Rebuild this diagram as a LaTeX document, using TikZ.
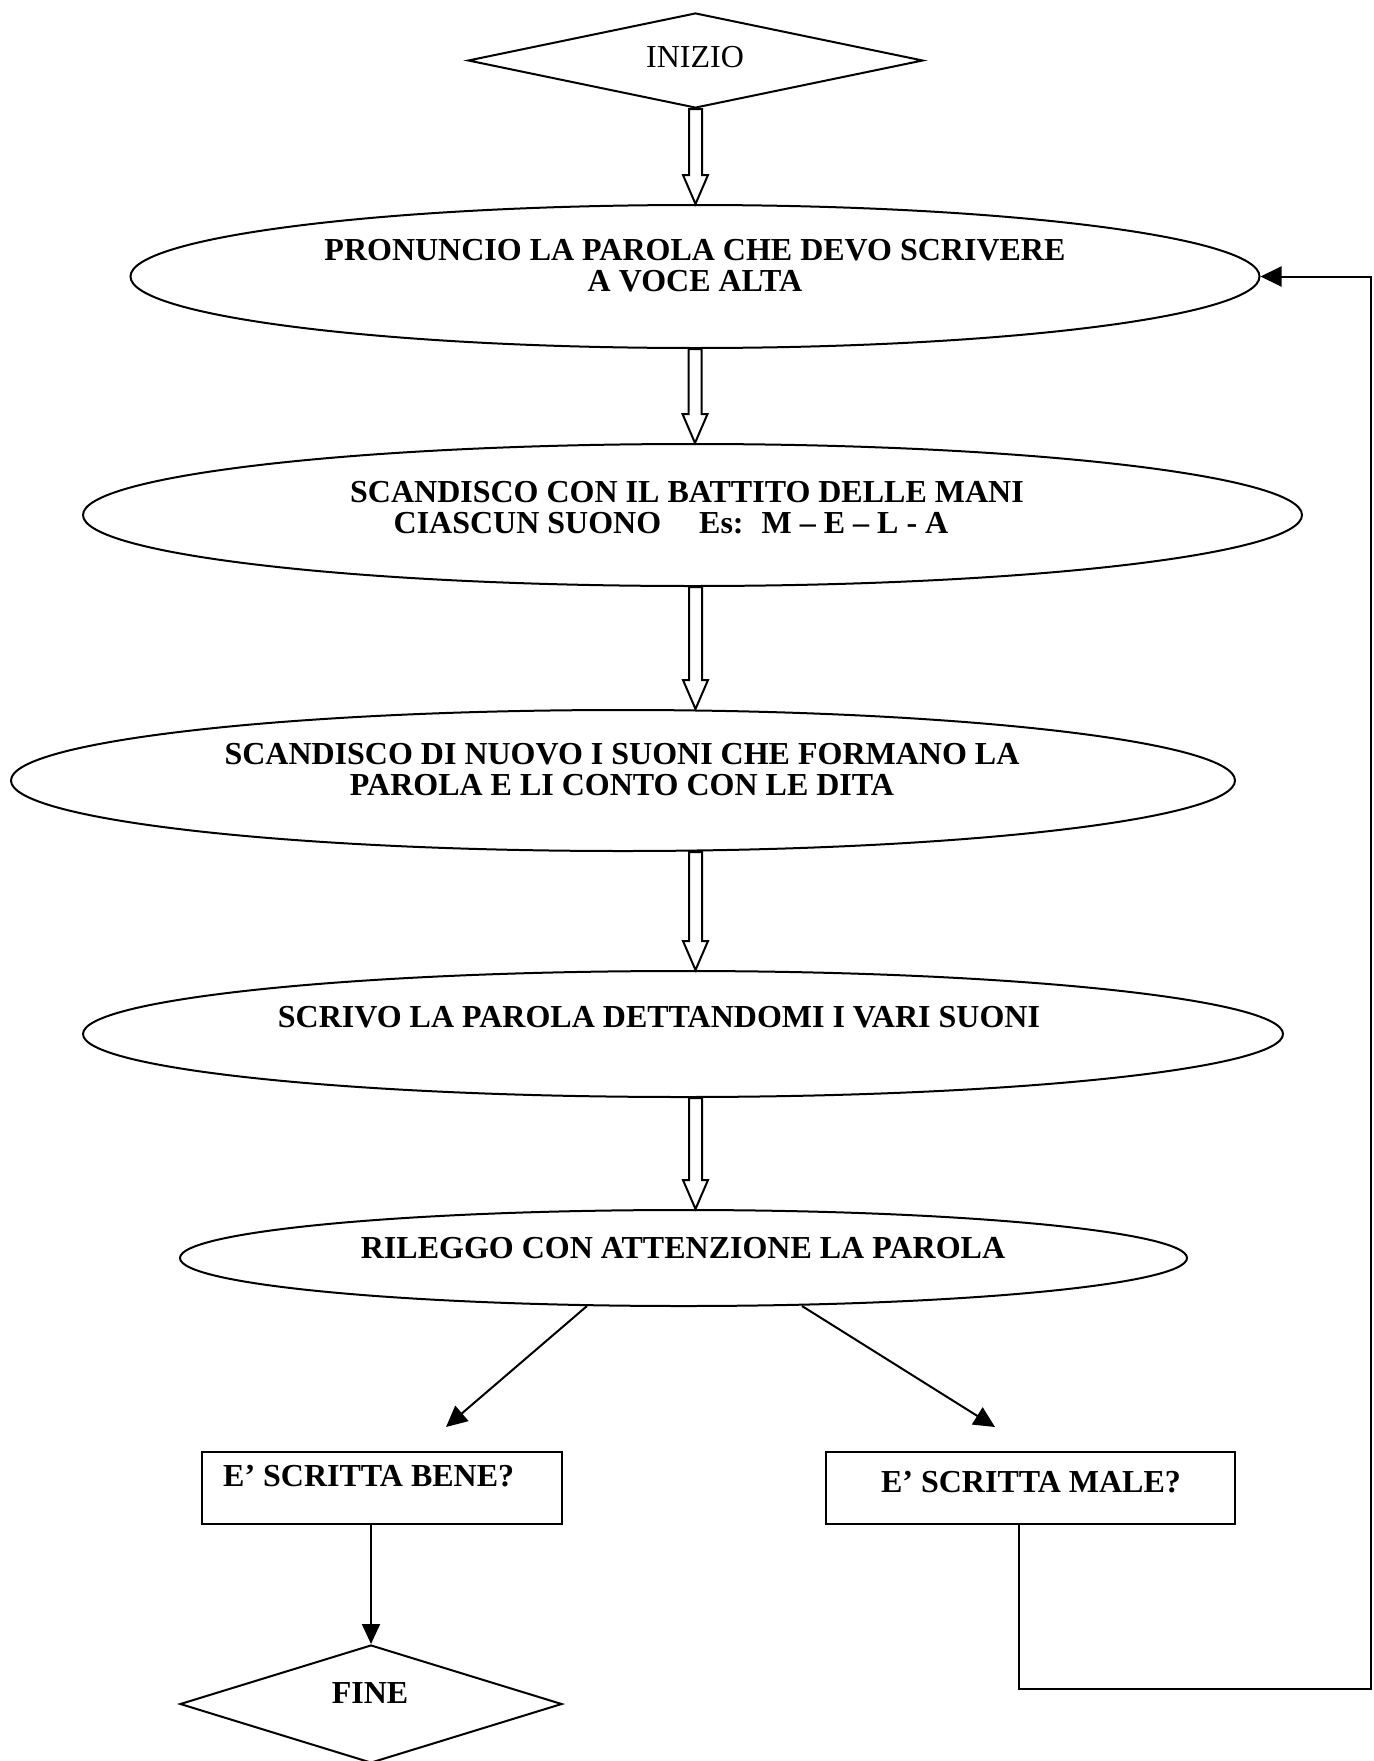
\documentclass[tikz,border=0pt]{standalone}
\usepackage{fontspec}
\setmainfont{Liberation Serif}
\usetikzlibrary{shapes.geometric,arrows.meta,calc}
\newcommand{\harrow}[2]{%
  \draw[hol] let \p1=(#1), \p2=(#2) in
    (\x1-6.5pt,\y1) -- (\x1-6.5pt,\y2+29pt) -- (\x1-12.5pt,\y2+29pt) -- (\x1,\y2)
    -- (\x1+12.5pt,\y2+29pt) -- (\x1+6.5pt,\y2+29pt) -- (\x1+6.5pt,\y1) -- cycle;}
\begin{document}
\begin{tikzpicture}[x=1pt,y=-1pt,
  ell/.style={ellipse, draw, line width=2pt, inner sep=0pt},
  dia/.style={diamond, draw, line width=2pt, inner sep=0pt},
  box/.style={rectangle, draw, line width=2pt, inner sep=0pt},
  txt/.style={font=\fontsize{32}{31}\selectfont\bfseries, align=center, inner sep=0pt},
  arr/.style={line width=2pt, line join=miter, -{Triangle[length=21pt,width=20pt]}},
  hol/.style={line width=2pt, line join=miter}]
\useasboundingbox (0,0) rectangle (1373,1761);
% start
\node[dia, minimum width=455pt, minimum height=95pt] (start) at (695.5,60.5) {};
\node[font=\fontsize{32}{31}\selectfont, inner sep=0pt] (tstart) at (695,57) {INIZIO};
% ellipses
\node[ell, minimum width=1129pt, minimum height=143pt] (e1) at (695,276.5) {};
\node[txt] (t1) at (695,266) {PRONUNCIO LA PAROLA CHE DEVO SCRIVERE\\A VOCE ALTA};
\node[ell, minimum width=1219pt, minimum height=142pt] (e2) at (692.5,515) {};
\node[txt] (t2) at (687,507.5) {SCANDISCO CON IL BATTITO DELLE MANI\\CIASCUN SUONO\hspace{38pt}Es:\hspace{18pt}M – E – L - A\hspace*{32pt}};
\node[ell, minimum width=1224pt, minimum height=141pt] (e3) at (623,780.5) {};
\node[txt] (t3) at (622,770) {SCANDISCO DI NUOVO I SUONI CHE FORMANO LA\\PAROLA E LI CONTO CON LE DITA};
\node[ell, minimum width=1200pt, minimum height=126pt] (e4) at (683,1034) {};
\node[txt] (t4) at (659,1017) {SCRIVO LA PAROLA DETTANDOMI I VARI SUONI};
\node[ell, minimum width=1007pt, minimum height=96pt] (e5) at (683.5,1258) {};
\node[txt] (t5) at (683,1248) {RILEGGO CON ATTENZIONE LA PAROLA};
% boxes
\node[box, minimum width=360pt, minimum height=72pt] (bb) at (382,1488) {};
\node[txt, anchor=west] (tb) at (223,1476) {E’ SCRITTA BENE?};
\node[box, minimum width=409pt, minimum height=72pt] (mb) at (1030.5,1488) {};
\node[txt] (tm) at (1031,1482) {E’ SCRITTA MALE?};
% end
\node[dia, minimum width=382pt, minimum height=118pt] (fine) at (371,1704) {};
\node[txt] (tf) at (370,1693) {FINE};
% hollow arrows
\harrow{start.south}{e1.north}
\harrow{e1.south}{e2.north}
\harrow{e2.south -| start.south}{e3.north}
\harrow{e3.south -| start.south}{e4.north}
\harrow{e4.south -| start.south}{e5.north}
% branch arrows
\coordinate (lt) at ($(bb.north)+(64,-24)$);
\coordinate (rt) at ($(mb.north)+(-35.5,-24)$);
\draw[arr] ($(e5.south)+(-96.5,-1)$) -- (lt);
\draw[arr] ($(e5.south)+(118.5,-1)$) -- (rt);
\draw[arr, -{Triangle[length=20pt,width=18pt]}] (bb.south -| fine.north) -- (fine.north);
% return loop
\coordinate (corner) at (1371,1689);
\draw[arr] ($(mb.south)+(-11.5,0)$) |- (corner) |- (e1.east);
\end{tikzpicture}
\end{document}
